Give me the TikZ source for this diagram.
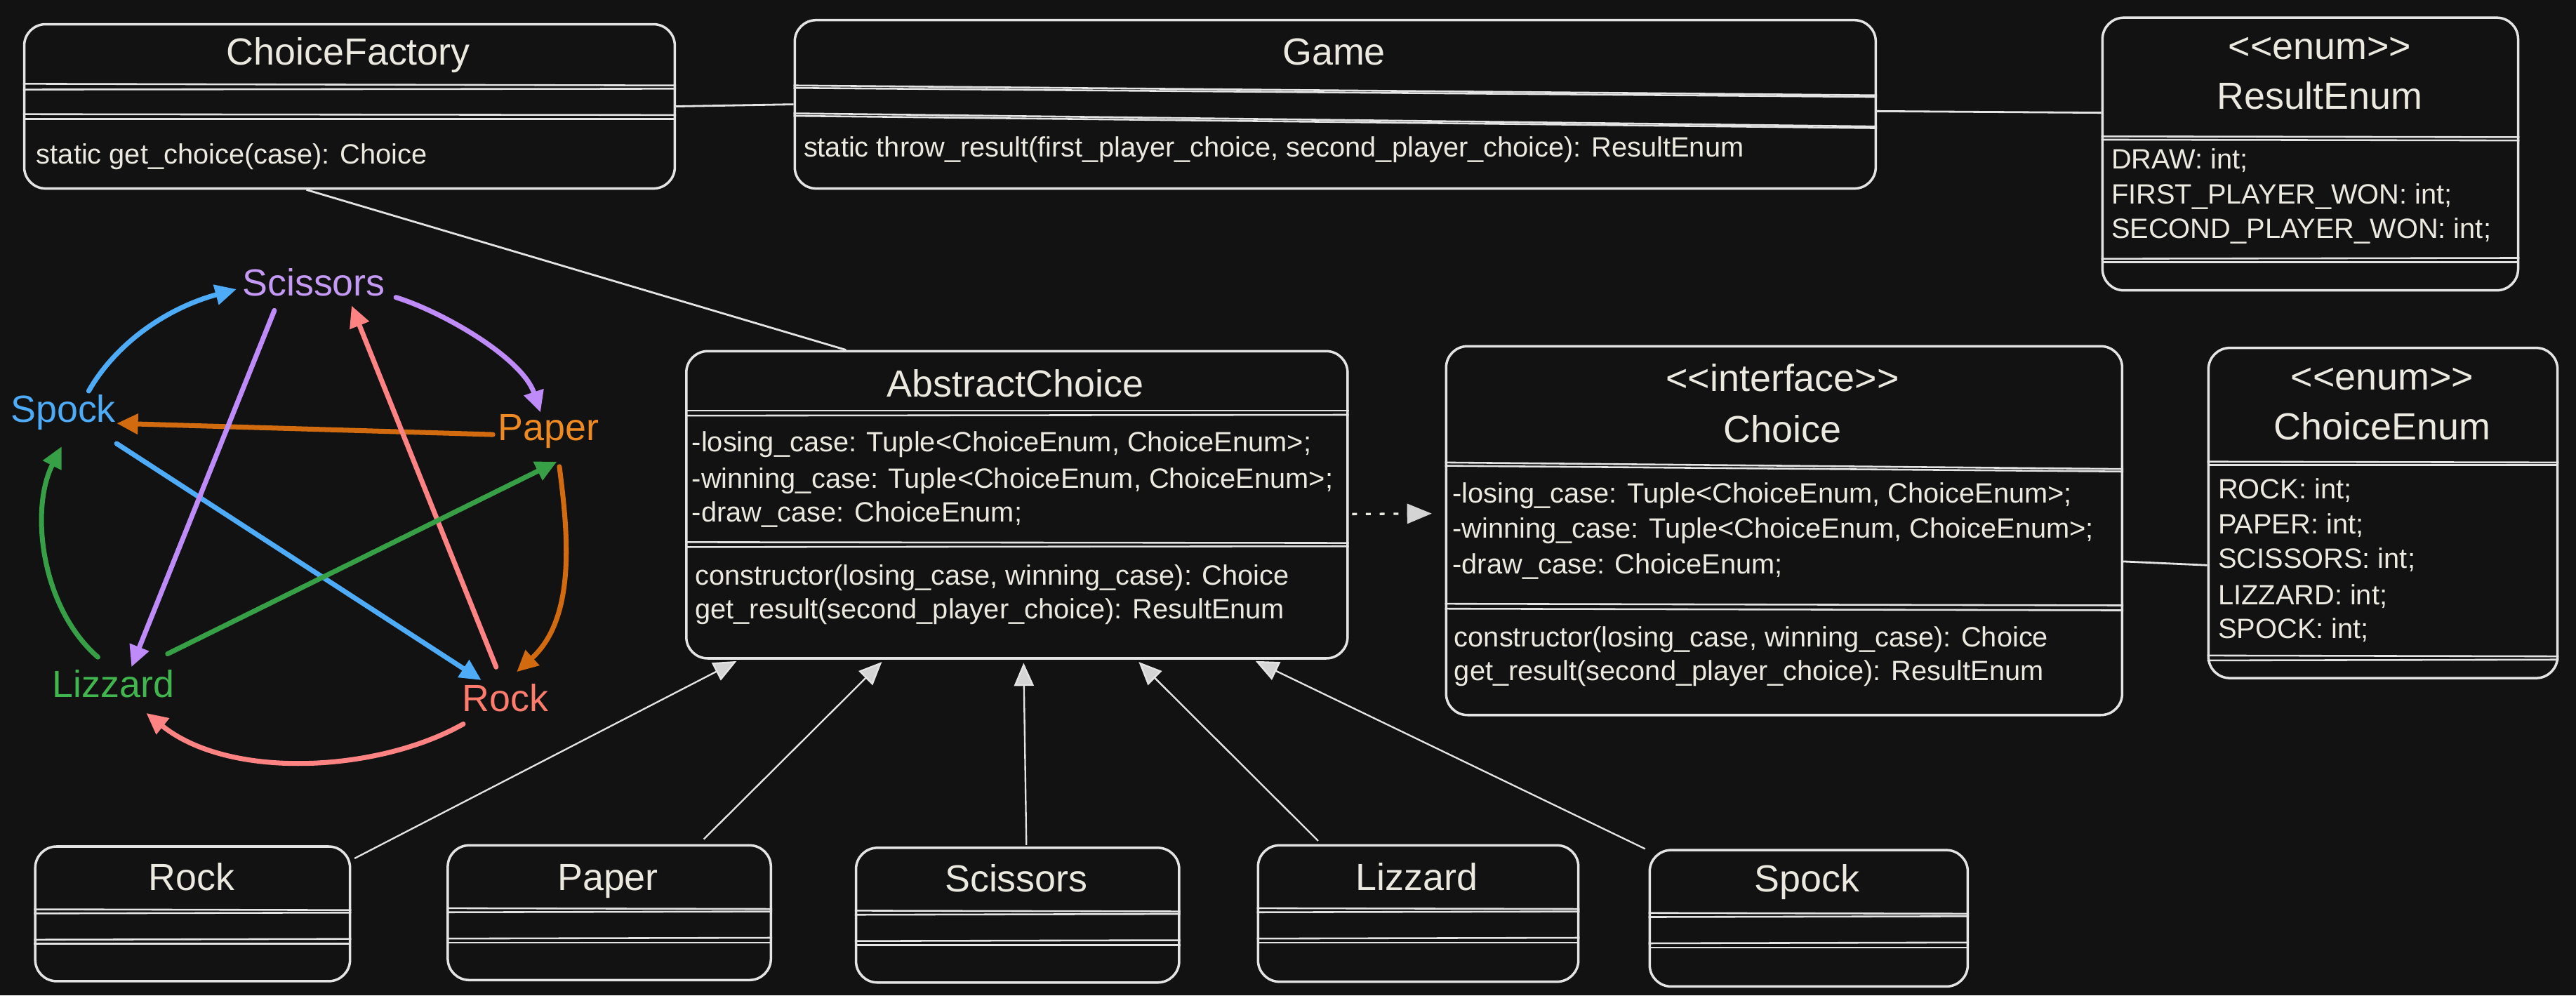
\documentclass[tikz,border=0pt]{standalone}
\usepackage{fontspec}
\newfontfamily\hand{Liberation Sans}
\usetikzlibrary{arrows.meta,calc}

\definecolor{bg}{HTML}{121212}
\definecolor{ink}{HTML}{ECE9E0}
\definecolor{edge}{HTML}{E4E4E4}
\definecolor{head}{HTML}{D4D4D4}
\definecolor{cblue}{HTML}{4DABF7}
\definecolor{cviolet}{HTML}{BF8BF8}
\definecolor{cred}{HTML}{FF8383}
\definecolor{corange}{HTML}{D26A10}
\definecolor{cgreen}{HTML}{37A046}
\definecolor{lviolet}{HTML}{C49AF5}
\definecolor{lorange}{HTML}{EF8A22}
\definecolor{lred}{HTML}{FF7B6B}
\definecolor{lgreen}{HTML}{42B64E}

\tikzset{
  umlbox/.style={draw=edge, line width=1.5pt, rounded corners=13pt, fill=bg,
                 anchor=north west, inner sep=0pt},
  sepline/.style={draw=edge, line width=1.1pt},
  body/.style={text=ink, inner sep=0pt, font=\hand\fontsize{17}{21}\selectfont},
  attr/.style={body, anchor=base west},
  ttl/.style={text=ink, inner sep=0pt, anchor=base, font=\hand\fontsize{23}{27}\selectfont},
  link/.style={draw=edge, line width=1.2pt},
  inherit/.style={draw=edge, line width=1pt, shorten >=2pt,
                  -{Triangle[length=14pt,width=12pt,fill=head]}},
  realize/.style={draw=ink, line width=1.4pt, dash pattern=on 3pt off 5.4pt,
                  -{Triangle[length=15pt,width=12pt,fill=head,color=head]}},
  plabel/.style={inner sep=0pt, anchor=base, font=\hand\fontsize{23}{27}\selectfont},
  beats/.style={line width=3pt, line cap=round, -{Triangle[length=13pt,width=12pt]}},
}

% compartment separator across a box: node, offset at left, offset at right
\newcommand\umlsep[3]{\draw[sepline] ($(#1.north west)+(0,#2)$) -- ($(#1.north east)+(0,#3)$);}

\begin{document}
\begin{tikzpicture}[x=1pt,y=-1pt]
\useasboundingbox (0,0) rectangle (1568,606);
\fill[bg] (0,0) rectangle (1568,606);

% ---------- class boxes ----------
\node[umlbox, minimum width=396pt, minimum height=100pt]   (cf)     at (14,14) {};
\node[umlbox, minimum width=658pt, minimum height=102.5pt] (game)   at (483,11.5) {};
\node[umlbox, minimum width=253pt, minimum height=166pt]   (res)    at (1279,10) {};
\node[umlbox, minimum width=402.5pt, minimum height=187pt] (abs)    at (417,213) {};
\node[umlbox, minimum width=411.5pt, minimum height=224.5pt] (choice) at (879.5,210) {};
\node[umlbox, minimum width=212.5pt, minimum height=201pt] (cenum)  at (1343.5,211) {};
\node[umlbox, minimum width=191.6pt, minimum height=82pt]  (rock)   at (20.7,514.5) {};
\node[umlbox, minimum width=196.7pt, minimum height=82pt]  (paper)  at (271.8,513.8) {};
\node[umlbox, minimum width=196.7pt, minimum height=82pt]  (scis)   at (520.3,515.3) {};
\node[umlbox, minimum width=195pt, minimum height=83pt]    (liz)    at (765,513.8) {};
\node[umlbox, minimum width=193.6pt, minimum height=83pt]  (spock)  at (1003.4,516.7) {};

% ---------- compartment separators ----------
\umlsep{cf}{37}{38}       \umlsep{cf}{40.5}{40}
\umlsep{cf}{55.5}{56}     \umlsep{cf}{58.5}{58.5}
\umlsep{game}{40.5}{46.5} \umlsep{game}{42}{47.5}
\umlsep{game}{57.5}{65.5} \umlsep{game}{59}{66.5}
\umlsep{res}{73}{73.5}    \umlsep{res}{75}{75.5}
\umlsep{res}{147.5}{147}  \umlsep{res}{149.5}{149.5}
\umlsep{abs}{37}{37}      \umlsep{abs}{40}{39.5}
\umlsep{abs}{117}{117.5}  \umlsep{abs}{120}{119.5}
\umlsep{choice}{71.5}{75.5}   \umlsep{choice}{73.5}{77}
\umlsep{choice}{157.5}{158.5} \umlsep{choice}{160.5}{161.5}
\umlsep{cenum}{70}{70.5}  \umlsep{cenum}{72}{72}
\umlsep{cenum}{188}{188.5} \umlsep{cenum}{191}{190.5}
\foreach \b in {rock,paper,scis,liz,spock}{
  \umlsep{\b}{39}{39.5}   \umlsep{\b}{41.5}{41}
  \umlsep{\b}{57.5}{57}   \umlsep{\b}{60}{60}
}

% ---------- associations ----------
\draw[link] (cf.east) -- (game.west);
\draw[link] ($(game.north east)!0.54!(game.south east)$) -- ($(res.north west)!0.35!(res.south west)$);
\draw[link] ($(choice.north east)!0.583!(choice.south east)$) -- ($(cenum.north west)!0.657!(cenum.south west)$);
\draw[link] ($(cf.south west)!0.434!(cf.south east)$) -- ($(abs.north west)!0.2425!(abs.north east)$);

% realization
\draw[realize] ($(abs.north east)!0.53!(abs.south east)+(2,0)$) -- ($(choice.north west)!0.454!(choice.south west)+(-8,0)$);

% generalization
\draw[inherit] ($(rock.north east)+(2,8)$) -- ($(abs.south west)!0.082!(abs.south east)$);
\draw[inherit] ($(paper.north west)!0.79!(paper.north east)+(0,-3)$) -- ($(abs.south west)!0.30!(abs.south east)$);
\draw[inherit] ($(scis.north west)!0.527!(scis.north east)+(0,-1)$) -- ($(abs.south west)!0.51!(abs.south east)$);
\draw[inherit] ($(liz.north west)!0.19!(liz.north east)+(0,-2)$) -- ($(abs.south west)!0.68!(abs.south east)$);
\draw[inherit] ($(spock.north west)+(-2,0)$) -- ($(abs.south west)!0.855!(abs.south east)$);

% ---------- texts ----------
\node[ttl]  (cf-t)  at (212,39.5) {ChoiceFactory};
\node[attr] (cf-m1) at (22,99.7) {static get\_choice(case): Choice};

\node[ttl]  (game-t)  at (812,39.5) {Game};
\node[attr] (game-m1) at (489,95.4) {static throw\_result(first\_player\_choice, second\_player\_choice): ResultEnum};

\node[ttl]  (res-s) at (1412,36) {<<enum>>};
\node[ttl]  (res-t) at (1412,66.3) {ResultEnum};
\node[attr] (res-a1) at (1285,102.9) {DRAW: int;};
\node[attr] (res-a2) at (1285,124)   {FIRST\_PLAYER\_WON: int;};
\node[attr] (res-a3) at (1285,145)   {SECOND\_PLAYER\_WON: int;};

\node[ttl]  (abs-t)  at (618,241.5) {AbstractChoice};
\node[attr] (abs-a1) at (421,275)   {-losing\_case: Tuple<ChoiceEnum, ChoiceEnum>;};
\node[attr] (abs-a2) at (421,297.1) {-winning\_case: Tuple<ChoiceEnum, ChoiceEnum>;};
\node[attr] (abs-a3) at (421,317.5) {-draw\_case: ChoiceEnum;};
\node[attr] (abs-m1) at (423,356)   {constructor(losing\_case, winning\_case): Choice};
\node[attr] (abs-m2) at (423,376.4) {get\_result(second\_player\_choice): ResultEnum};

\node[ttl]  (ch-s)  at (1085,238)   {<<interface>>};
\node[ttl]  (ch-t)  at (1085,269.3) {Choice};
\node[attr] (ch-a1) at (884,306)   {-losing\_case: Tuple<ChoiceEnum, ChoiceEnum>;};
\node[attr] (ch-a2) at (884,327.3) {-winning\_case: Tuple<ChoiceEnum, ChoiceEnum>;};
\node[attr] (ch-a3) at (884,349.4) {-draw\_case: ChoiceEnum;};
\node[attr] (ch-m1) at (885,393.6) {constructor(losing\_case, winning\_case): Choice};
\node[attr] (ch-m2) at (885,414)   {get\_result(second\_player\_choice): ResultEnum};

\node[ttl]  (ce-s)  at (1450,237.4) {<<enum>>};
\node[ttl]  (ce-t)  at (1450,267.7) {ChoiceEnum};
\node[attr] (ce-a1) at (1350,303.6) {ROCK: int;};
\node[attr] (ce-a2) at (1350,324.9) {PAPER: int;};
\node[attr] (ce-a3) at (1350,346)   {SCISSORS: int;};
\node[attr] (ce-a4) at (1350,368.2) {LIZZARD: int;};
\node[attr] (ce-a5) at (1350,388.7) {SPOCK: int;};

\node[ttl] (rock-t)  at (116.5,542) {Rock};
\node[ttl] (paper-t) at (370,542)   {Paper};
\node[ttl] (scis-t)  at (618.6,543) {Scissors};
\node[ttl] (liz-t)   at (862.5,542) {Lizzard};
\node[ttl] (spock-t) at (1100,543)  {Spock};

% ---------- who beats whom ----------
\node[plabel, text=lviolet] (pSc) at (191,180)    {Scissors};
\node[plabel, text=cblue]   (pSp) at (38.5,257)   {Spock};
\node[plabel, text=lorange] (pPa) at (334,268)    {Paper};
\node[plabel, text=lgreen]  (pLi) at (69,424.5)   {Lizzard};
\node[plabel, text=lred]    (pRo) at (307.5,433)  {Rock};

% Spock
\draw[beats, cblue] ($(pSp.base)+(15.5,-19)$) .. controls (70,210) and (100,188) .. ($(pSc.base)+(-47,-4)$);
\draw[beats, cblue] ($(pSp.base)+(32.5,13)$) -- ($(pRo.base)+(-14.5,-19)$);
% Paper
\draw[beats, corange] ($(pPa.base)+(-34,-3.5)$) -- ($(pSp.base)+(32.5,0.7)$);
\draw[beats, corange] ($(pPa.base)+(6.5,16)$) .. controls (345,320) and (352,375) .. ($(pRo.base)+(7,-24)$);
% Scissors
\draw[beats, cviolet] ($(pSc.base)+(50,1)$) .. controls (270,190) and (318,218) .. ($(pPa.base)+(-5,-17)$);
\draw[beats, cviolet] ($(pSc.base)+(-24,9)$) -- ($(pLi.base)+(11,-18.5)$);
% Rock
\draw[beats, cred] ($(pRo.base)+(-5.5,-27)$) -- ($(pSc.base)+(23,6)$);
\draw[beats, cred] ($(pRo.base)+(-25.5,7.7)$) .. controls (230,470) and (140,475) .. ($(pLi.base)+(20,9.5)$);
% Lizzard
\draw[beats, cgreen] ($(pLi.base)+(-9.4,-24.5)$) .. controls (25,370) and (18,310) .. ($(pSp.base)+(-0.9,14.7)$);
\draw[beats, cgreen] ($(pLi.base)+(33,-26.5)$) -- ($(pPa.base)+(5,13)$);

\end{tikzpicture}
\end{document}
